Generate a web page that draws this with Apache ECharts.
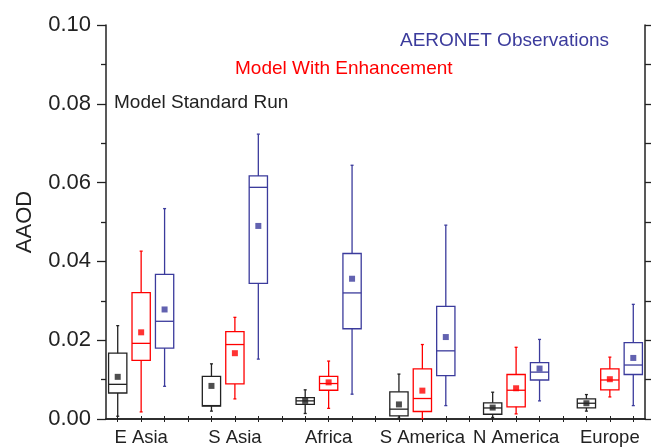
<!DOCTYPE html>
<html>
<head>
<meta charset="utf-8">
<script src="https://cdn.jsdelivr.net/npm/echarts@6/dist/echarts.min.js"></script>
<style>
  html, body { margin: 0; padding: 0; background: #fff; }
  #chart { width: 651px; height: 447px; }
</style>
</head>
<body>
<div id="chart"></div>
<script>
// regions, each with 3 boxes (standard, enhanced, observed) and a gap slot
var regions = ['E Asia', 'S Asia', 'Africa', 'S America', 'N America', 'Europe'];

// [min, q1, median, q3, max]
var standardBox = [
    [0.0007, 0.0066, 0.0088, 0.0167, 0.0237],
    [0.0020, 0.0033, 0.0034, 0.0108, 0.0140],
    [0.0014, 0.0037, 0.0046, 0.0054, 0.0074],
    [0.0002, 0.0008, 0.0025, 0.0069, 0.0114],
    [0.0004, 0.0012, 0.0028, 0.0041, 0.0068],
    [0.0020, 0.0028, 0.0040, 0.0051, 0.0062]
];
var standardMean = [0.0107, 0.0084, 0.0046, 0.0037, 0.0029, 0.0040];

var enhancedBox = [
    [0.0018, 0.0149, 0.0192, 0.0321, 0.0426],
    [0.0051, 0.0089, 0.0189, 0.0222, 0.0258],
    [0.0027, 0.0073, 0.0090, 0.0108, 0.0147],
    [0.0001, 0.0019, 0.0052, 0.0127, 0.0189],
    [0.0013, 0.0031, 0.0073, 0.0113, 0.0182],
    [0.0056, 0.0074, 0.0099, 0.0127, 0.0157]
];
var enhancedMean = [0.0220, 0.0167, 0.0093, 0.0072, 0.0078, 0.0101];

var observedBox = [
    [0.0083, 0.0180, 0.0248, 0.0367, 0.0534],
    [0.0152, 0.0344, 0.0588, 0.0617, 0.0723],
    [0.0063, 0.0229, 0.0320, 0.0420, 0.0644],
    [0.0034, 0.0110, 0.0173, 0.0286, 0.0492],
    [0.0046, 0.0099, 0.0119, 0.0143, 0.0202],
    [0.0034, 0.0113, 0.0137, 0.0194, 0.0291]
];
var observedMean = [0.0278, 0.0490, 0.0356, 0.0208, 0.0128, 0.0155];

var yTicks = ['0.00', '0.02', '0.04', '0.06', '0.08', '0.10'];

var BLACK = '#222222', RED = '#ff0000', BLUE = '#3b3b9c';
var FONT = 'Liberation Sans, Arial, sans-serif';

// 4 slots per region, last gap dropped -> 23 slots
var slots = [];
for (var i = 0; i < regions.length * 4 - 1; i++) {
    slots.push(i % 4 === 1 ? regions[(i - 1) / 4] : '');
}

function boxData(boxes, offset) {
    return boxes.map(function (b, r) {
        return [r * 4 + offset].concat(b);
    });
}
function meanData(means, offset) {
    return means.map(function (m, r) {
        return [r * 4 + offset, m];
    });
}

function renderBox(params, api) {
    var x = api.value(0);
    var pMin = api.coord([x, api.value(1)]);
    var pQ1 = api.coord([x, api.value(2)]);
    var pMed = api.coord([x, api.value(3)]);
    var pQ3 = api.coord([x, api.value(4)]);
    var pMax = api.coord([x, api.value(5)]);
    var w = api.size([1, 0])[0] * 0.78;
    var cx = pMed[0];
    var color = api.visual('color');
    var style = { stroke: color, lineWidth: 1.3, fill: null };
    var cap = 1.5;
    return {
        type: 'group',
        children: [
            { type: 'rect', shape: { x: cx - w / 2, y: pQ3[1], width: w, height: pQ1[1] - pQ3[1] }, style: style },
            { type: 'line', shape: { x1: cx - w / 2, y1: pMed[1], x2: cx + w / 2, y2: pMed[1] }, style: style },
            { type: 'line', shape: { x1: cx, y1: pQ3[1], x2: cx, y2: pMax[1] }, style: style },
            { type: 'line', shape: { x1: cx, y1: pQ1[1], x2: cx, y2: pMin[1] }, style: style },
            { type: 'line', shape: { x1: cx - cap, y1: pMax[1], x2: cx + cap, y2: pMax[1] }, style: style },
            { type: 'line', shape: { x1: cx - cap, y1: pMin[1], x2: cx + cap, y2: pMin[1] }, style: style }
        ]
    };
}

function boxSeries(name, boxes, offset, color) {
    return {
        name: name,
        type: 'custom',
        xAxisIndex: 0, yAxisIndex: 0,
        itemStyle: { color: color },
        renderItem: renderBox,
        encode: { x: 0, y: [1, 2, 3, 4, 5] },
        data: boxData(boxes, offset),
        z: 3
    };
}

function meanSeries(name, means, offset, color) {
    return {
        name: name,
        type: 'scatter',
        symbol: 'rect',
        symbolSize: 6,
        itemStyle: { color: color },
        data: meanData(means, offset),
        z: 4
    };
}

var chart = echarts.init(document.getElementById('chart'));
var option = {
    animation: false,
    backgroundColor: '#fff',
    textStyle: { fontFamily: FONT },
    grid: { left: 106, right: 6, top: 25, bottom: 27, containLabel: false },
    xAxis: [
        {
            type: 'category',
            data: slots,
            axisLine: { lineStyle: { color: BLACK, width: 1.5 } },
            axisTick: { show: true, alignWithLabel: true, interval: 0, inside: true, length: 3, lineStyle: { color: BLACK } },
            axisLabel: { interval: 0, margin: 9, fontSize: 18.5, color: BLACK, fontFamily: FONT },
            splitLine: { show: false }
        },
        {
            type: 'category',
            position: 'top',
            data: slots,
            axisLine: { lineStyle: { color: BLACK, width: 1.5 } },
            axisTick: { show: true, alignWithLabel: true, interval: 0, inside: true, length: 3, lineStyle: { color: BLACK } },
            axisLabel: { show: false },
            splitLine: { show: false }
        }
    ],
    yAxis: [
        {
            type: 'value',
            min: 0, max: 0.1, interval: 0.02,
            name: 'AAOD',
            nameLocation: 'middle',
            nameGap: 70,
            nameTextStyle: { fontSize: 22, color: BLACK, fontFamily: FONT },
            axisLine: { show: true, lineStyle: { color: BLACK, width: 1.5 } },
            axisTick: { show: true, length: 9, lineStyle: { color: BLACK, width: 1.3 } },
            minorTick: { show: true, splitNumber: 2, length: 5, lineStyle: { color: BLACK, width: 1.3 } },
            axisLabel: {
                margin: 15, fontSize: 22, color: BLACK, fontFamily: FONT,
                formatter: function (v) { return yTicks[Math.round(v / 0.02)]; }
            },
            splitLine: { show: false }
        },
        {
            type: 'value',
            position: 'right',
            min: 0, max: 0.1, interval: 0.01,
            axisLine: { show: true, lineStyle: { color: BLACK, width: 1.5 } },
            axisTick: { show: true, length: 8, lineStyle: { color: BLACK, width: 1.3 } },
            axisLabel: { show: false },
            splitLine: { show: false }
        }
    ],
    graphic: [
        { type: 'text', left: 114, top: 93.5, style: { text: 'Model Standard Run', fill: BLACK, font: '19px ' + FONT } },
        { type: 'text', left: 235, top: 59.5, style: { text: 'Model With Enhancement', fill: RED, font: '19px ' + FONT } },
        { type: 'text', left: 400, top: 31, style: { text: 'AERONET Observations', fill: BLUE, font: '19px ' + FONT } }
    ],
    series: [
        boxSeries('Model Standard Run', standardBox, 0, BLACK),
        boxSeries('Model With Enhancement', enhancedBox, 1, RED),
        boxSeries('AERONET Observations', observedBox, 2, BLUE),
        meanSeries('Standard mean', standardMean, 0, BLACK),
        meanSeries('Enhanced mean', enhancedMean, 1, RED),
        meanSeries('Observed mean', observedMean, 2, BLUE)
    ]
};
chart.setOption(option);
</script>
</body>
</html>
